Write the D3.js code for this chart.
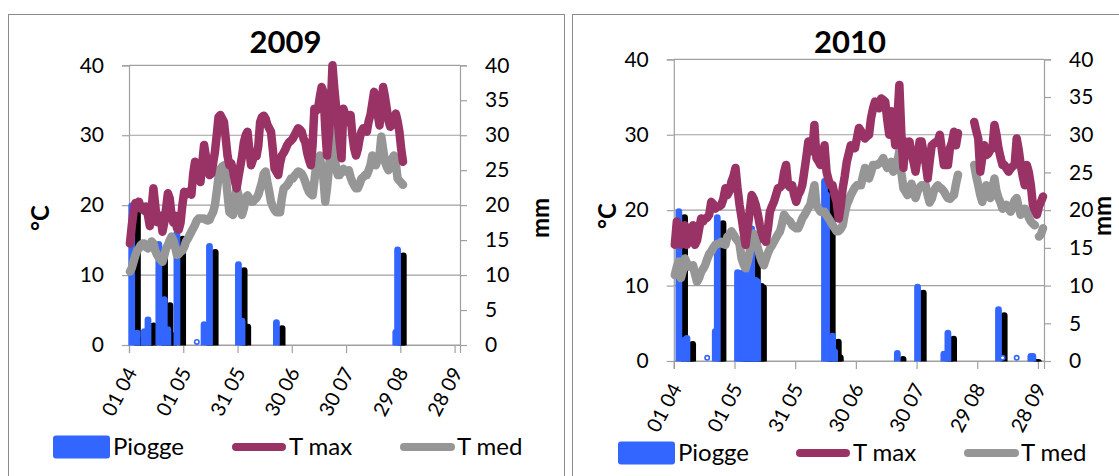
<!DOCTYPE html>
<html>
<head>
<meta charset="utf-8">
<script src="https://cdn.jsdelivr.net/npm/d3@7"></script>
<style>
  body { margin: 0; background: #fff; }
  svg { display: block; }
  text { font-family: Lato, "Open Sans", sans-serif; fill: #000; }
</style>
</head>
<body>
<svg id="chart" width="1119" height="476"></svg>
<script>
// Daily series, 1 April onwards (183 daily categories per season)
const categoryCount = 183;
const tickLabels = ["01 04", "01 05", "31 05", "30 06", "30 07", "29 08", "28 09"];
const seriesNames = ["Piogge", "T max", "T med"];

const tmax2009 = [14.5,17,19,20.3,20,20.5,19.5,19.8,19.2,19.8,18.5,17,19.5,22.4,20,17.6,17.5,18.5,16.2,17.5,19.5,21.7,21,18.6,17.5,18.5,16.7,16.5,17.5,20,21.9,21.5,21.9,22,21.5,24.5,26.2,25.7,24,23.3,26,28.6,27,25.2,24.3,24.5,26,27.6,30,32.6,32.9,32.4,31.9,29.5,27,25.7,26,25,23.5,22.4,24,25.5,27,29,30,30.5,28,25.7,26.5,27.5,27,28.5,31.9,
  32.6,32.8,32.4,31.5,31,30.5,28,25.2,24.8,24.3,26,27.1,27.5,28,28.6,29,29.2,29.5,30,30.5,31,30.8,30.5,29.5,29,27.5,26.5,25.7,28.6,33.8,33.5,33.8,35.5,36.9,36.2,31,27.1,30,33.8,40,36.7,34,31.9,29,26.7,33.8,33,31.9,32.5,32.9,30,28.1,27.1,28,29.5,30.5,31,31,30.5,32,32.9,34.5,36.2,34.8,33,31.4,34,36.9,35.5,33.8,32,31.2,31.5,31.9,33.1,32,30.5,28,26.2];
const tmed2009 = [10.5,11,11.9,12.8,13.5,13.8,14.3,14.5,14.5,14,13.8,14.2,14.8,14.5,13.5,12.9,12.5,12.2,11.9,12.8,13.8,14.3,15,15.5,15,14,12.9,13,13.3,13.5,14,14.8,15.2,15.7,16.2,16.7,17.2,17.8,18.1,18.1,18.1,18.1,17.9,17.8,17.9,18.5,19,20,21.9,24,25.2,25.5,25.7,24.3,21.5,19,18.8,18.6,20.5,22.4,21.5,20,18.6,19.5,21,21.4,21,20.5,20.5,20.8,21,21.5,22.4,
  23.3,24.5,24.8,23.3,22,20.5,19.8,19.3,19,19,19,21,22.4,22.6,22.9,23.3,23.8,23.8,24.2,24.5,24.8,24.7,24.5,24,23.3,22.5,21.9,21.6,21.4,23.5,25.7,26.5,27.1,25,23.8,20.5,22.5,25.2,28,31.2,28,25.2,24.3,24.3,25,25.2,24.8,24.8,25,24,23.3,22.8,22.4,22.4,23,23.8,24,24.3,24.3,25,25.7,27.1,26.5,25.7,26.5,27.1,29.8,28,26.2,25.5,25,26,26.7,27.1,26,23.8,23.5,23.2,22.9];
const rainDays2009 = [1, 4, 8, 10, 16, 19, 21, 26, 37, 41, 44, 60, 62, 81, 147, 148];
const rain2009 =     [19.9, 1.7, 1.9, 3.6, 14.4, 6.5, 2.2, 16.0, 0.1, 2.9, 14.1, 11.5, 3.4, 3.2, 1.8, 13.6];

const tmax2010 = [15.4,18.5,17,15.4,17,18,15.4,16,17.5,18,15.4,16,17.5,18.9,18.5,18.9,19,19.4,21.1,20.8,20.2,20.5,20.5,20.7,21.5,22.9,22,22.5,23.8,24.5,25.6,22.9,20.7,19,17.2,15.4,17.5,19.8,
  22,21.5,20.7,19.5,18,17,16.2,15.8,17.5,19.8,20.5,21.1,22,22.9,23,23.3,25,26,23.3,23,23.3,22,21.1,22,22.5,23.3,25.1,27,29.1,28,27.8,31.3,26.9,26.5,26,27,28.6,25.1,24,23.3,23.3,22,21.1,18.9,20.5,22.9,24.5,26.4,27.5,28.6,28.4,28.2,29.5,30.9,30.5,30,29.5,29.8,30,32.2,33.5,34.4,34,33.5,34.8,34.6,34.4,32,30,33.1,31,28.6,32,36.6,
  30,25.6,29.1,29,29.1,27.5,26.4,25.1,27,29.1,29.1,27.5,26.2,24.2,26.5,28.6,28.8,29,29.1,30,28,26,26,26,28.2,29,30.4,28.6,30.2,null,null,null,null,null,null,null,
  31.7,30.5,29.5,25.1,27,28.6,27.3,27.5,28,28.2,31.3,30,28.2,27,26,26,25.5,25.1,25.5,25.8,26,29.5,28,26,24.5,23.3,26,25,23.3,20.7,20,19.4,20.5,21.1,21.8];
const tmed2010 = [11.4,12.5,13.2,11,12,13.6,13,12.5,12.5,12.7,11.5,10.5,11,11.8,12.2,12.7,13.5,14.2,14.5,15,15.4,15.5,15.6,15.8,15.5,15.4,16.5,16.7,17.2,16.8,16.3,16,15.5,13.6,12.8,12.3,13.2,14.5,16.3,16.9,
  16,15,14,13.2,12.7,13.5,14.3,14.9,15.3,15.8,16.3,16.8,17.2,18.2,19.4,19,18.7,18.5,18,17.8,17.6,17.6,18.2,18.9,19.3,19.8,20.3,20.7,22,23.3,20.7,20.2,19.8,19.8,19.8,19.3,18.9,18.5,18,17.6,17.2,17.2,17.5,18,19.5,20.7,21.3,22,22.5,23,23.3,23.3,23.3,24.5,25.6,25,24.2,25,26,26,26,26.2,26.4,26.9,26.2,25.6,26,26.4,25.1,25.5,26.4,27.8,
  25,22.9,22.5,22,22.8,23.5,22.5,21.6,22.5,23,23.3,23.3,23.3,22,21,21.5,22.5,23,23.3,23,22.8,22.5,22,21.6,21.5,21.8,22,23.5,24.7,null,null,null,null,null,null,null,
  26,24.5,23.3,22,21.1,22.3,23.3,22.3,21.6,22.8,24.2,22.5,21.6,21,20.2,20.5,20.7,20.2,19.8,20.5,21.3,21.6,20.3,19.4,19.8,20.2,19.8,19,18.5,18.2,18,null,16.5,16.8,17.6];
const rainDays2010 = [2, 5, 6, 16, 20, 21, 31, 32, 33, 34, 35, 37, 38, 40, 41, 74, 75, 78, 79, 110, 120, 133, 135, 160, 162, 169, 176, 177];
const rain2010 =     [19.8, 2.8, 3.0, 0.1, 3.9, 19.0, 11.7, 11.5, 11.6, 11.7, 11.5, 6.8, 17.5, 10.7, 10.5, 23.8, 22, 3.3, 1.2, 1.0, 9.8, 0.9, 3.7, 6.8, 0.1, 0.1, 0.6, 0.6];

const colors = { rain: "#3366ff", shadow: "#000000", tmax: "#993366", tmed: "#969696", grid: "#a0a0a0", frame: "#8c8c8c" };

const svg = d3.select("#chart");
svg.append("rect").attr("width", 1119).attr("height", 476).attr("fill", "#fff");

const panels = [
  { id: "p2009", title: "2009", tmax: tmax2009, tmed: tmed2009, rainDays: rainDays2009, rain: rain2009,
    frame: [8.5, 14.5, 556, 480], plot: { left: 129, right: 460, top: 65.3, bottom: 345 },
    titleY: 53, celsiusX: 49, mmX: 549, labelsY: 218, legendY: 447,
    legend: [53, 232, 400] },
  { id: "p2010", title: "2010", tmax: tmax2010, tmed: tmed2010, rainDays: rainDays2010, rain: rain2010,
    frame: [572.5, 14.5, 560, 480], plot: { left: 673.8, right: 1044, top: 59.3, bottom: 361 },
    titleY: 53, celsiusX: 616, mmX: 1111, labelsY: 216, legendY: 453,
    legend: [618, 796, 964] }
];

panels.forEach(drawPanel);

function drawPanel(p) {
  const g = svg.append("g").attr("id", p.id);
  const { left, right, top, bottom } = p.plot;

  // frame
  g.append("rect")
    .attr("x", p.frame[0]).attr("y", p.frame[1])
    .attr("width", p.frame[2]).attr("height", p.frame[3])
    .attr("fill", "none").attr("stroke", colors.frame).attr("stroke-width", 1);

  const x = d3.scaleLinear().domain([0, categoryCount]).range([left, right]);
  const yT = d3.scaleLinear().domain([0, 40]).range([bottom, top]);
  const yR = d3.scaleLinear().domain([0, 40]).range([bottom, top]);

  // gridlines
  g.append("g").selectAll("line").data(yT.ticks(4)).join("line")
    .attr("x1", left).attr("x2", right)
    .attr("y1", d => yT(d)).attr("y2", d => yT(d))
    .attr("stroke", colors.grid).attr("stroke-width", 1.2);

  // left axis
  const axL = g.append("g").attr("transform", `translate(${left},0)`)
    .call(d3.axisLeft(yT).tickValues([0, 10, 20, 30, 40]).tickSize(7).tickPadding(18));
  // right axis
  const axR = g.append("g").attr("transform", `translate(${right},0)`)
    .call(d3.axisRight(yR).tickValues(d3.range(0, 41, 5)).tickSize(7).tickPadding(18));
  // bottom axis
  const axB = g.append("g").attr("transform", `translate(0,${bottom})`)
    .call(d3.axisBottom(x).tickValues(d3.range(0, 181, 30)).tickSize(8)
      .tickFormat((d, i) => tickLabels[i]));

  [axL, axR, axB].forEach(a => {
    a.select(".domain").attr("stroke", colors.grid).attr("stroke-width", 1.2);
    a.selectAll(".tick line").attr("stroke", colors.grid).attr("stroke-width", 1.2);
    a.selectAll("text").attr("font-size", 21).attr("fill", "#000");
  });
  axB.selectAll("text")
    .attr("font-size", 20)
    .attr("text-anchor", "end")
    .attr("transform", "translate(2,24) rotate(-62)")
    .attr("dx", 0).attr("dy", "0.35em").attr("y", 0).attr("x", 0);

  // rain bars (secondary axis) with drop shadow, clipped at the plot area
  const clipId = p.id + "-clip";
  g.append("clipPath").attr("id", clipId).append("rect")
    .attr("x", left - 20).attr("y", top - 20)
    .attr("width", right - left + 40).attr("height", bottom - top + 20.5);

  const rainData = p.rainDays.map((d, i) => ({ day: d, mm: p.rain[i] }));
  const bars = g.append("g").attr("clip-path", `url(#${clipId})`);
  const cx = d => x(d.day + 0.5);
  const solid = rainData.filter(d => d.mm >= 0.3);
  const trace = rainData.filter(d => d.mm < 0.3);

  bars.append("g").selectAll("line").data(solid).join("line")
    .attr("x1", d => cx(d) + 5.7).attr("x2", d => cx(d) + 5.7)
    .attr("y1", bottom + 10).attr("y2", d => yR(d.mm) + 6)
    .attr("stroke", colors.shadow).attr("stroke-width", 6.8).attr("stroke-linecap", "round");
  bars.append("g").selectAll("line").data(solid).join("line")
    .attr("x1", cx).attr("x2", cx)
    .attr("y1", bottom + 10).attr("y2", d => yR(d.mm))
    .attr("stroke", colors.rain).attr("stroke-width", 6.8).attr("stroke-linecap", "round");
  bars.append("g").selectAll("circle").data(trace).join("circle")
    .attr("cx", cx).attr("cy", d => yR(d.mm) - 2.4).attr("r", 2.2)
    .attr("fill", "#fff").attr("stroke", colors.rain).attr("stroke-width", 1.6);

  // temperature lines
  const line = d3.line()
    .defined(d => d != null)
    .x((d, i) => x(i + 0.5))
    .y(d => yT(d));
  g.append("path").datum(p.tmed).attr("d", line)
    .attr("fill", "none").attr("stroke", colors.tmed).attr("stroke-width", 8.5)
    .attr("stroke-linejoin", "round").attr("stroke-linecap", "round");
  g.append("path").datum(p.tmax).attr("d", line)
    .attr("fill", "none").attr("stroke", colors.tmax).attr("stroke-width", 8.5)
    .attr("stroke-linejoin", "round").attr("stroke-linecap", "round");

  // titles
  g.append("text").attr("x", (left + right) / 2 - 9).attr("y", p.titleY)
    .attr("text-anchor", "middle").attr("font-size", 31).attr("font-weight", "bold")
    .text(p.title);
  g.append("text").attr("transform", `translate(${p.celsiusX},${p.labelsY}) rotate(-90)`)
    .attr("text-anchor", "middle").attr("font-size", 24).attr("font-weight", "bold")
    .text("°C");
  g.append("text").attr("transform", `translate(${p.mmX},${p.labelsY}) rotate(-90)`)
    .attr("text-anchor", "middle").attr("font-size", 24).attr("font-weight", "bold")
    .text("mm");

  // legend
  const lg = g.append("g").attr("transform", `translate(0,${p.legendY})`);
  lg.append("rect").attr("x", p.legend[0]).attr("y", -11.5).attr("width", 57).attr("height", 23)
    .attr("rx", 3).attr("fill", colors.rain);
  lg.append("line").attr("x1", p.legend[1] + 4).attr("x2", p.legend[1] + 50)
    .attr("stroke", colors.tmax).attr("stroke-width", 8).attr("stroke-linecap", "round");
  lg.append("line").attr("x1", p.legend[2] + 4).attr("x2", p.legend[2] + 51)
    .attr("stroke", colors.tmed).attr("stroke-width", 8).attr("stroke-linecap", "round");
  const textX = [p.legend[0] + 60, p.legend[1] + 57, p.legend[2] + 57];
  lg.selectAll("text.leg").data(seriesNames).join("text").attr("class", "leg")
    .attr("x", (d, i) => textX[i]).attr("y", 0).attr("dy", "0.35em")
    .attr("font-size", 24).text(d => d);
}
</script>
</body>
</html>
